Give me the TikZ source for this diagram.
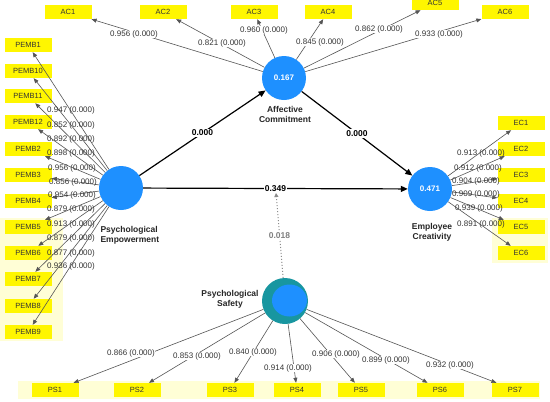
\documentclass[tikz,border=0pt]{standalone}
\usepackage{fontspec}
\setmainfont{Liberation Sans}
\usetikzlibrary{arrows.meta}

\definecolor{lvblue}{RGB}{30,144,255}
\definecolor{lvteal}{RGB}{24,150,160}
\definecolor{itemyel}{RGB}{255,246,0}
\definecolor{loadgray}{RGB}{85,85,85}

\tikzset{
  latent/.style={circle, fill=lvblue, minimum size=44pt, inner sep=0pt,
    text=white, font=\fontsize{8}{9}\selectfont\bfseries},
  item/.style={fill=itemyel, minimum width=47pt, minimum height=14pt, inner sep=0pt,
    text=black!80, font=\fontsize{7.5}{8}\selectfont},
  halo/.style={fill=itemyel!16},
  load/.style={draw=loadgray, line width=0.6pt, -{Triangle[length=5pt,width=4pt]}},
  path/.style={draw=black, line width=1.2pt, -{Triangle[length=7pt,width=6pt]}},
  coef/.style={font=\fontsize{8}{9}\selectfont, text=black!80, inner sep=0.5pt},
  coefw/.style={coef, fill=white},
  pcoef/.style={font=\fontsize{8.5}{9}\selectfont\bfseries, fill=white, inner sep=1pt},
  lvname/.style={font=\fontsize{8.5}{10}\selectfont\bfseries, text=black!85, align=center}
}

\begin{document}
\begin{tikzpicture}[x=1pt, y=-1pt]
  \useasboundingbox[fill=white] (0,0) rectangle (550,402);

  % pale shading behind some indicators
  \fill[halo] (0,218) rectangle (63,341);
  \fill[halo] (492,218) rectangle (548,263);
  \fill[halo] (18,381) rectangle (540,399);

  % latent variables
  \node[latent] (ac) at (284,78) {0.167};
  \node[latent] (pe) at (121,188) {};
  \node[latent] (ec) at (430,189) {0.471};
  \node[latent, fill=lvteal, minimum size=46pt] (ps) at (285,301) {};
  \begin{scope}
    \clip (ps) circle (23pt);
    \fill[lvblue] (289.5,300.5) ellipse (17.5pt and 16pt);
  \end{scope}

  \node[lvname] (acname) at (285,114) {Affective\\Commitment};
  \node[lvname, anchor=west, align=left] (pename) at (97,235) {Psychological\\Empowerment};
  \node[lvname] (ecname) at (432,232) {Employee\\Creativity};
  \node[lvname] (psname) at (230,299) {Psychological\\Safety};

  % indicators
  \node[item] (ac1) at (68,12) {AC1};
  \node[item] (ac2) at (163,12) {AC2};
  \node[item] (ac3) at (254,12) {AC3};
  \node[item] (ac4) at (328,12) {AC4};
  \node[item] (ac5) at (435,3) {AC5};
  \node[item] (ac6) at (505,12) {AC6};

  \node[item] (pemb1) at (28,45) {PEMB1};
  \node[item] (pemb10) at (28,71) {PEMB10};
  \node[item] (pemb11) at (28,96) {PEMB11};
  \node[item] (pemb12) at (28,122) {PEMB12};
  \node[item] (pemb2) at (28,149) {PEMB2};
  \node[item] (pemb3) at (28,175) {PEMB3};
  \node[item] (pemb4) at (28,201) {PEMB4};
  \node[item] (pemb5) at (28,227) {PEMB5};
  \node[item] (pemb6) at (28,253) {PEMB6};
  \node[item] (pemb7) at (28,279) {PEMB7};
  \node[item] (pemb8) at (28,306) {PEMB8};
  \node[item] (pemb9) at (28,332) {PEMB9};

  \node[item] (ec1) at (521,123) {EC1};
  \node[item] (ec2) at (521,149) {EC2};
  \node[item] (ec3) at (521,175) {EC3};
  \node[item] (ec4) at (521,201) {EC4};
  \node[item] (ec5) at (521,227) {EC5};
  \node[item] (ec6) at (521,253) {EC6};

  \node[item] (ps1) at (55,390) {PS1};
  \node[item] (ps2) at (137,390) {PS2};
  \node[item] (ps3) at (230,390) {PS3};
  \node[item] (ps4) at (297,390) {PS4};
  \node[item] (ps5) at (361,390) {PS5};
  \node[item] (ps6) at (440,390) {PS6};
  \node[item] (ps7) at (515,390) {PS7};

  % outer loadings
  \draw[load] (ac) -- (ac1);
  \draw[load] (ac) -- (ac2);
  \draw[load] (ac) -- (ac3);
  \draw[load] (ac) -- (ac4);
  \draw[load] (ac) -- (ac5);
  \draw[load] (ac) -- (ac6);

  \draw[load] (pe) -- (pemb1);
  \draw[load] (pe) -- (pemb10);
  \draw[load] (pe) -- (pemb11);
  \draw[load] (pe) -- (pemb12);
  \draw[load] (pe) -- (pemb2);
  \draw[load] (pe) -- (pemb3);
  \draw[load] (pe) -- (pemb4);
  \draw[load] (pe) -- (pemb5);
  \draw[load] (pe) -- (pemb6);
  \draw[load] (pe) -- (pemb7);
  \draw[load] (pe) -- (pemb8);
  \draw[load] (pe) -- (pemb9);

  \draw[load] (ec) -- (ec1);
  \draw[load] (ec) -- (ec2);
  \draw[load] (ec) -- (ec3);
  \draw[load] (ec) -- (ec4);
  \draw[load] (ec) -- (ec5);
  \draw[load] (ec) -- (ec6);

  \draw[load] (ps) -- (ps1);
  \draw[load] (ps) -- (ps2);
  \draw[load] (ps) -- (ps3);
  \draw[load] (ps) -- (ps4);
  \draw[load] (ps) -- (ps5);
  \draw[load] (ps) -- (ps6);
  \draw[load] (ps) -- (ps7);

  \node[coefw] (l_ac1) at (134,34) {0.956 (0.000)};
  \node[coefw] (l_ac2) at (222,43) {0.821 (0.000)};
  \node[coefw] (l_ac3) at (264,30) {0.960 (0.000)};
  \node[coefw] (l_ac4) at (320,42) {0.845 (0.000)};
  \node[coefw] (l_ac5) at (379,29) {0.862 (0.000)};
  \node[coefw] (l_ac6) at (439,34) {0.933 (0.000)};

  \node[coef] (l_pemb1) at (71,110) {0.947 (0.000)};
  \node[coef] (l_pemb10) at (71,125) {0.852 (0.000)};
  \node[coef] (l_pemb11) at (71,139) {0.892 (0.000)};
  \node[coef] (l_pemb12) at (71,153) {0.898 (0.000)};
  \node[coef] (l_pemb2) at (72,168) {0.956 (0.000)};
  \node[coef] (l_pemb3) at (73,182) {0.856 (0.000)};
  \node[coef] (l_pemb4) at (72,195) {0.954 (0.000)};
  \node[coef] (l_pemb5) at (71,209) {0.879 (0.000)};
  \node[coef] (l_pemb6) at (71,224) {0.913 (0.000)};
  \node[coef] (l_pemb7) at (71,238) {0.879 (0.000)};
  \node[coef] (l_pemb8) at (71,253) {0.877 (0.000)};
  \node[coef] (l_pemb9) at (71,266) {0.936 (0.000)};

  \node[coef] (l_ec1) at (481,153) {0.913 (0.000)};
  \node[coef] (l_ec2) at (478,168) {0.912 (0.000)};
  \node[coef] (l_ec3) at (476,181) {0.904 (0.000)};
  \node[coef] (l_ec4) at (476,194) {0.909 (0.000)};
  \node[coef] (l_ec5) at (479,208) {0.939 (0.000)};
  \node[coef] (l_ec6) at (481,224) {0.891 (0.000)};

  \node[coefw] (l_ps1) at (131,353) {0.866 (0.000)};
  \node[coefw] (l_ps2) at (197,356) {0.853 (0.000)};
  \node[coefw] (l_ps3) at (253,352) {0.840 (0.000)};
  \node[coefw] (l_ps4) at (288,368) {0.914 (0.000)};
  \node[coefw] (l_ps5) at (336,354) {0.906 (0.000)};
  \node[coefw] (l_ps6) at (386,360) {0.899 (0.000)};
  \node[coefw] (l_ps7) at (450,365) {0.932 (0.000)};

  % structural model
  \draw[path] (pe) -- (ac) node[pcoef, pos=0.5] {0.000};
  \draw[path] (ac) -- (ec) node[pcoef, pos=0.5] {0.000};
  \draw[path] (pe) -- (ec) node[pcoef, pos=0.5] {0.349};
  \coordinate (mod) at (276,193);
  \draw[gray!90, dotted, line width=1pt, -{Triangle[length=4pt,width=4pt]}] (ps) -- (mod)
    node[pos=0.5, fill=white, inner sep=1pt, font=\fontsize{8.5}{9}\selectfont\bfseries, text=gray] {0.018};
\end{tikzpicture}
\end{document}
